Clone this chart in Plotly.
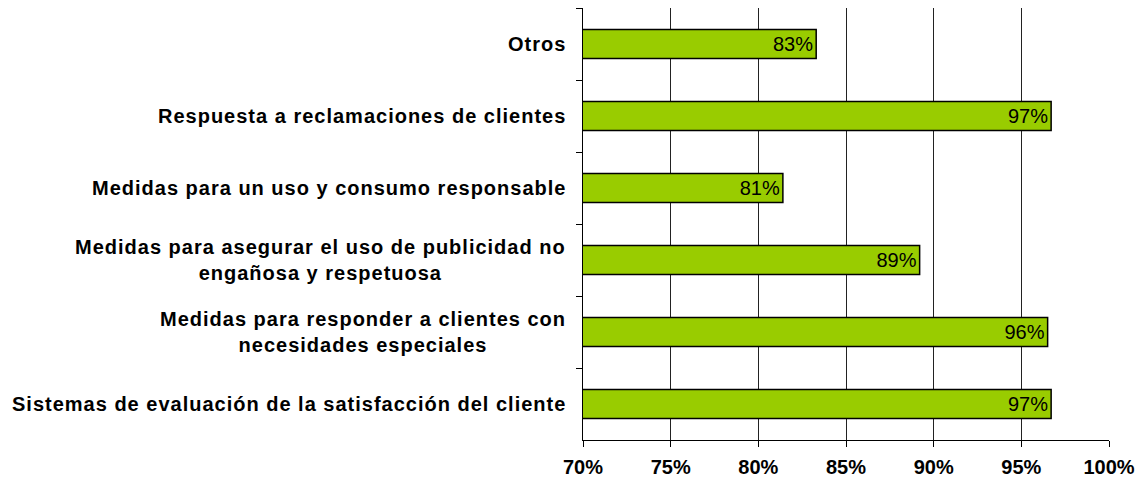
import plotly.graph_objects as go

categories = [
    "Otros",
    "Respuesta a reclamaciones de clientes",
    "Medidas para un uso y consumo responsable",
    "Medidas para asegurar el uso de publicidad no engañosa y respetuosa",
    "Medidas para responder a clientes con necesidades especiales",
    "Sistemas de evaluación de la satisfacción del cliente",
]
label_lines = [
    ["Otros"],
    ["Respuesta a reclamaciones de clientes"],
    ["Medidas para un uso y consumo responsable"],
    ["Medidas para asegurar el uso de publicidad no", "engañosa y respetuosa"],
    ["Medidas para responder a clientes con", "necesidades especiales"],
    ["Sistemas de evaluación de la satisfacción del cliente"],
]
values = [0.833, 0.967, 0.814, 0.892, 0.965, 0.967]
bar_text = ["83%", "97%", "81%", "89%", "96%", "97%"]
tick_vals = [0.70, 0.75, 0.80, 0.85, 0.90, 0.95, 1.00]
tick_text = ["70%", "75%", "80%", "85%", "90%", "95%", "100%"]

FONT = "Liberation Sans, Arial, sans-serif"

fig = go.Figure(
    go.Bar(
        x=values,
        y=categories,
        orientation="h",
        width=0.4,
        marker=dict(color="#99CC00", line=dict(color="#000000", width=1.5)),
        text=bar_text,
        textposition="inside",
        insidetextanchor="end",
        constraintext="none",
        textfont=dict(family=FONT, size=20, color="#000000"),
        hoverinfo="skip",
    )
)

for cat, lines in zip(categories, label_lines):
    txt = "<br>".join(
        f'<span style="letter-spacing:1px">{ln}</span>' for ln in lines
    )
    fig.add_annotation(
        x=0, xref="paper", y=cat, yref="y",
        xanchor="right", yanchor="middle", xshift=-15,
        text=f"<b>{txt}</b>", align="center", showarrow=False,
        font=dict(family=FONT, size=20, color="#000000"),
    )

fig.update_layout(
    width=1139, height=473,
    margin=dict(l=575, r=38, t=0, b=41, pad=0),
    paper_bgcolor="#ffffff", plot_bgcolor="#ffffff",
    showlegend=False,
    font=dict(family=FONT, color="#000000"),
)
fig.update_xaxes(
    range=[0.70, 1.00],
    tickvals=tick_vals, ticktext=tick_text,
    tickfont=dict(family=FONT, size=20, color="#000000", weight="bold"),
    showgrid=True, gridcolor="#222222", gridwidth=1,
    showline=True, linecolor="#000000", linewidth=1,
    ticks="outside", ticklen=6, tickcolor="#000000", tickwidth=1,
    ticklabelstandoff=3,
    zeroline=False,
)
fig.update_yaxes(
    categoryorder="array", categoryarray=categories,
    autorange="reversed",
    showticklabels=False,
    showgrid=False,
    showline=True, linecolor="#000000", linewidth=1,
    ticks="outside", tickson="boundaries", ticklen=6,
    tickcolor="#000000", tickwidth=1,
    zeroline=False,
)

fig.write_html("out.html")
